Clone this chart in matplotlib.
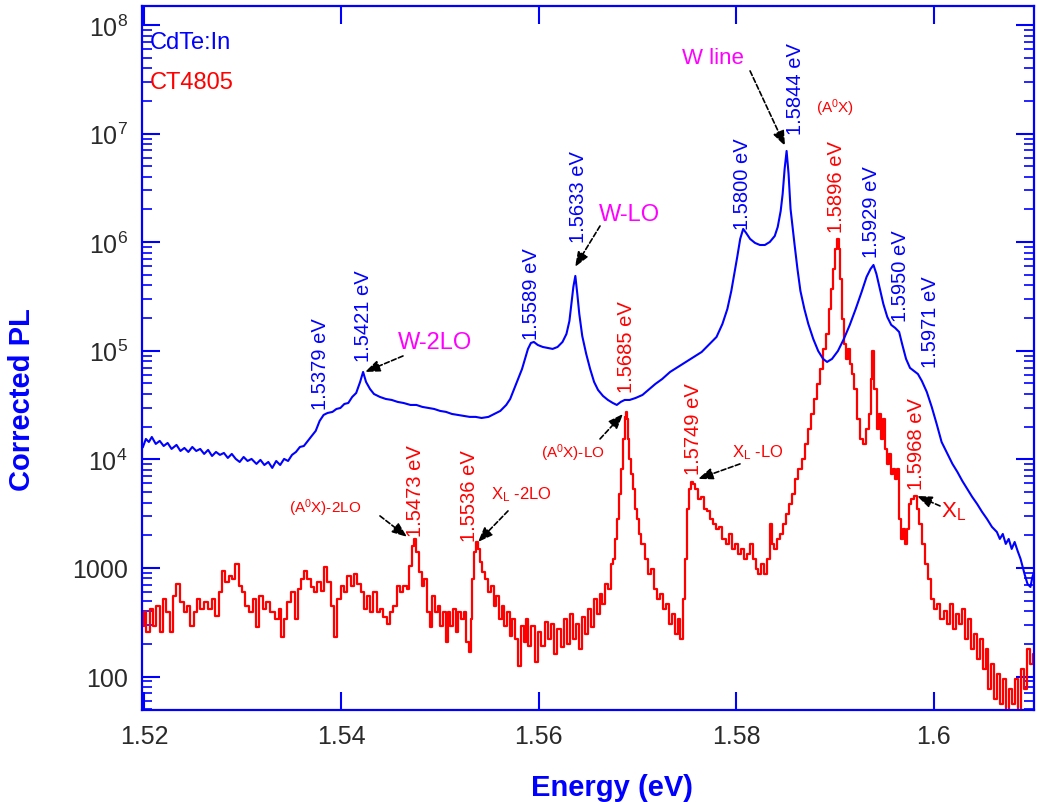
import numpy as np
import matplotlib
matplotlib.use("Agg")
import matplotlib.pyplot as plt
from matplotlib.ticker import FixedLocator, NullFormatter, LogLocator

# ---------------- data (energy in eV, log10 of corrected PL) ----------------
blue_E = [1.5199, 1.5202, 1.5205, 1.5208, 1.5212, 1.5216, 1.5220, 1.5224, 1.5228, 1.5233,
          1.5237, 1.5241, 1.5245, 1.5249, 1.5253, 1.5257, 1.5261, 1.5265, 1.5269, 1.5273,
          1.5277, 1.5281, 1.5285, 1.5289, 1.5293, 1.5297, 1.5301, 1.5305, 1.5309, 1.5314,
          1.5318, 1.5322, 1.5326, 1.5330, 1.5334, 1.5338, 1.5342, 1.5346, 1.5350, 1.5354,
          1.5358, 1.5362, 1.5366, 1.5370, 1.5374, 1.5378, 1.5382, 1.5386, 1.5391, 1.5395,
          1.5399, 1.5403, 1.5407, 1.5411, 1.5415, 1.5419, 1.5422, 1.5425, 1.5429, 1.5433,
          1.5439, 1.5445, 1.5451, 1.5457, 1.5463, 1.5470, 1.5476, 1.5482, 1.5488, 1.5494,
          1.5500, 1.5506, 1.5512, 1.5518, 1.5524, 1.5530, 1.5536, 1.5542, 1.5549, 1.5555,
          1.5561, 1.5567, 1.5571, 1.5575, 1.5579, 1.5583, 1.5586, 1.5589, 1.5592, 1.5595,
          1.5599, 1.5604, 1.5609, 1.5614, 1.5619, 1.5624, 1.5628, 1.5631, 1.5633, 1.5635,
          1.5637, 1.5639, 1.5641, 1.5644, 1.5648, 1.5652, 1.5656, 1.5660, 1.5665, 1.5670,
          1.5675, 1.5679, 1.5683, 1.5687, 1.5692, 1.5698, 1.5705, 1.5711, 1.5718, 1.5725,
          1.5733, 1.5741, 1.5749, 1.5757, 1.5765, 1.5773, 1.5780, 1.5786, 1.5791, 1.5795,
          1.5798, 1.5801, 1.5804, 1.5807, 1.5810, 1.5814, 1.5819, 1.5824, 1.5829, 1.5834,
          1.5839, 1.5842, 1.5845, 1.5847, 1.5849, 1.5851, 1.5853, 1.5855, 1.5859, 1.5862,
          1.5865, 1.5869, 1.5873, 1.5878, 1.5883, 1.5888, 1.5892, 1.5897, 1.5903, 1.5909,
          1.5915, 1.5921, 1.5927, 1.5932, 1.5936, 1.5939, 1.5942, 1.5945, 1.5949, 1.5953,
          1.5957, 1.5961, 1.5965, 1.5968, 1.5972, 1.5976, 1.5980, 1.5984, 1.5988, 1.5993,
          1.5998, 1.6003, 1.6008, 1.6014, 1.6019, 1.6024, 1.6029, 1.6034, 1.6039, 1.6044,
          1.6049, 1.6054, 1.6059, 1.6064, 1.6067, 1.6070, 1.6073, 1.6076, 1.6079, 1.6082,
          1.6085, 1.6088, 1.6092, 1.6095, 1.6098, 1.6100, 1.6102]
blue_log = [4.114, 4.188, 4.160, 4.206, 4.142, 4.170, 4.123, 4.151, 4.096, 4.133,
            4.077, 4.105, 4.068, 4.114, 4.077, 4.096, 4.050, 4.087, 4.031, 4.068,
            4.041, 4.059, 4.013, 4.050, 4.004, 3.976, 4.022, 3.985, 4.004, 3.958,
            3.995, 3.948, 3.976, 3.921, 3.985, 3.948, 4.004, 3.985, 4.041, 4.068,
            4.114, 4.123, 4.170, 4.216, 4.262, 4.354, 4.409, 4.427, 4.437, 4.464,
            4.473, 4.510, 4.519, 4.575, 4.611, 4.713, 4.805, 4.713, 4.648, 4.602,
            4.575, 4.556, 4.547, 4.529, 4.519, 4.501, 4.501, 4.483, 4.473, 4.464,
            4.446, 4.437, 4.418, 4.409, 4.400, 4.391, 4.391, 4.381, 4.391, 4.418,
            4.446, 4.501, 4.556, 4.648, 4.740, 4.832, 4.925, 5.017, 5.072, 5.081,
            5.053, 5.035, 5.026, 5.017, 5.035, 5.081, 5.155, 5.274, 5.431, 5.588,
            5.689, 5.523, 5.339, 5.136, 4.971, 4.832, 4.713, 4.639, 4.584, 4.547,
            4.519, 4.501, 4.529, 4.547, 4.547, 4.565, 4.593, 4.639, 4.694, 4.740,
            4.805, 4.851, 4.897, 4.943, 4.989, 5.063, 5.127, 5.247, 5.385, 5.551,
            5.707, 5.864, 6.030, 6.122, 6.085, 6.030, 5.993, 5.974, 5.974, 6.002,
            6.057, 6.140, 6.287, 6.444, 6.674, 6.840, 6.628, 6.306, 5.983, 5.753,
            5.551, 5.385, 5.247, 5.109, 4.998, 4.925, 4.897, 4.925, 4.998, 5.109,
            5.238, 5.385, 5.542, 5.680, 5.753, 5.790, 5.707, 5.588, 5.431, 5.311,
            5.238, 5.210, 5.173, 5.063, 4.925, 4.842, 4.814, 4.786, 4.722, 4.621,
            4.483, 4.326, 4.160, 4.050, 3.958, 3.884, 3.801, 3.727, 3.654, 3.589,
            3.516, 3.451, 3.378, 3.331, 3.267, 3.313, 3.221, 3.267, 3.175, 3.239,
            3.157, 3.083, 2.945, 2.853, 2.825, 2.917, 2.972]

red_E = [1.5199, 1.5201, 1.5204, 1.5208, 1.5211, 1.5214, 1.5218, 1.5221, 1.5224, 1.5228,
         1.5231, 1.5234, 1.5239, 1.5242, 1.5245, 1.5249, 1.5252, 1.5255, 1.5259, 1.5262,
         1.5267, 1.5270, 1.5274, 1.5278, 1.5281, 1.5284, 1.5288, 1.5291, 1.5294, 1.5298,
         1.5301, 1.5304, 1.5309, 1.5312, 1.5315, 1.5319, 1.5322, 1.5325, 1.5330, 1.5335,
         1.5338, 1.5340, 1.5343, 1.5347, 1.5351, 1.5355, 1.5358, 1.5361, 1.5364, 1.5367,
         1.5371, 1.5374, 1.5377, 1.5381, 1.5384, 1.5387, 1.5392, 1.5394, 1.5398, 1.5401,
         1.5404, 1.5408, 1.5411, 1.5414, 1.5418, 1.5421, 1.5424, 1.5428, 1.5431, 1.5434,
         1.5438, 1.5441, 1.5444, 1.5448, 1.5451, 1.5454, 1.5458, 1.5461, 1.5464, 1.5468,
         1.5470, 1.5473, 1.5475, 1.5477, 1.5480, 1.5483, 1.5485, 1.5488, 1.5491, 1.5493,
         1.5496, 1.5499, 1.5501, 1.5504, 1.5507, 1.5509, 1.5512, 1.5515, 1.5517, 1.5520,
         1.5523, 1.5525, 1.5528, 1.5530, 1.5532, 1.5533, 1.5535, 1.5537, 1.5539, 1.5541,
         1.5544, 1.5548, 1.5550, 1.5553, 1.5556, 1.5558, 1.5561, 1.5564, 1.5566, 1.5569,
         1.5572, 1.5574, 1.5578, 1.5580, 1.5583, 1.5586, 1.5588, 1.5591, 1.5594, 1.5598,
         1.5601, 1.5604, 1.5608, 1.5611, 1.5614, 1.5617, 1.5620, 1.5624, 1.5627, 1.5630,
         1.5633, 1.5636, 1.5639, 1.5642, 1.5645, 1.5648, 1.5651, 1.5654, 1.5657, 1.5660,
         1.5663, 1.5666, 1.5669, 1.5672, 1.5674, 1.5676, 1.5678, 1.5680, 1.5682, 1.5684,
         1.5686, 1.5688, 1.5689, 1.5690, 1.5691, 1.5692, 1.5694, 1.5696, 1.5698, 1.5700,
         1.5702, 1.5706, 1.5709, 1.5712, 1.5715, 1.5718, 1.5721, 1.5724, 1.5727, 1.5730,
         1.5733, 1.5736, 1.5739, 1.5742, 1.5745, 1.5747, 1.5749, 1.5751, 1.5753, 1.5755,
         1.5757, 1.5760, 1.5763, 1.5766, 1.5769, 1.5772, 1.5775, 1.5778, 1.5781, 1.5784,
         1.5788, 1.5791, 1.5794, 1.5797, 1.5800, 1.5803, 1.5806, 1.5809, 1.5812, 1.5815,
         1.5818, 1.5821, 1.5824, 1.5827, 1.5830, 1.5833, 1.5835, 1.5837, 1.5840, 1.5843,
         1.5846, 1.5849, 1.5852, 1.5855, 1.5858, 1.5861, 1.5865, 1.5868, 1.5871, 1.5874,
         1.5877, 1.5880, 1.5883, 1.5886, 1.5889, 1.5892, 1.5895, 1.5897, 1.5899, 1.5901,
         1.5903, 1.5905, 1.5906, 1.5908, 1.5910, 1.5912, 1.5914, 1.5916, 1.5918, 1.5921,
         1.5924, 1.5927, 1.5930, 1.5933, 1.5935, 1.5937, 1.5939, 1.5941, 1.5944, 1.5946,
         1.5948, 1.5950, 1.5952, 1.5954, 1.5956, 1.5958, 1.5960, 1.5962, 1.5964, 1.5966,
         1.5968, 1.5970, 1.5972, 1.5974, 1.5976, 1.5979, 1.5982, 1.5984, 1.5987, 1.5990,
         1.5993, 1.5996, 1.5999, 1.6002, 1.6005, 1.6008, 1.6012, 1.6015, 1.6018, 1.6021,
         1.6024, 1.6027, 1.6030, 1.6033, 1.6036, 1.6039, 1.6042, 1.6045, 1.6048, 1.6051,
         1.6054, 1.6057, 1.6060, 1.6063, 1.6066, 1.6069, 1.6072, 1.6075, 1.6078, 1.6081,
         1.6084, 1.6087, 1.6090, 1.6093, 1.6096, 1.6100, 1.6102]
red_log = [2.466, 2.595, 2.411, 2.623, 2.466, 2.650, 2.411, 2.715, 2.595, 2.411,
           2.742, 2.853, 2.687, 2.595, 2.650, 2.466, 2.595, 2.715, 2.623, 2.687,
           2.623, 2.715, 2.558, 2.779, 2.972, 2.871, 2.926, 2.899, 3.037, 2.834,
           2.779, 2.650, 2.595, 2.715, 2.457, 2.742, 2.623, 2.687, 2.595, 2.530,
           2.623, 2.365, 2.530, 2.687, 2.779, 2.530, 2.807, 2.899, 2.972, 2.899,
           2.825, 2.779, 2.871, 2.788, 3.009, 2.871, 2.650, 2.365, 2.715, 2.834,
           2.779, 2.926, 2.834, 2.945, 2.853, 2.779, 2.623, 2.742, 2.595, 2.779,
           2.595, 2.623, 2.549, 2.484, 2.595, 2.650, 2.834, 2.779, 2.834, 2.807,
           3.018, 3.203, 3.267, 3.147, 2.963, 2.834, 2.899, 2.595, 2.457, 2.742,
           2.595, 2.650, 2.466, 2.595, 2.319, 2.595, 2.466, 2.623, 2.411, 2.595,
           2.530, 2.595, 2.319, 2.227, 2.530, 2.899, 3.147, 3.239, 3.175, 3.055,
           2.963, 2.899, 2.779, 2.834, 2.650, 2.742, 2.530, 2.650, 2.466, 2.595,
           2.374, 2.530, 2.346, 2.098, 2.466, 2.319, 2.530, 2.282, 2.466, 2.135,
           2.411, 2.282, 2.503, 2.346, 2.484, 2.208, 2.438, 2.273, 2.530, 2.300,
           2.577, 2.346, 2.484, 2.254, 2.549, 2.392, 2.623, 2.457, 2.715, 2.577,
           2.761, 2.669, 2.853, 2.807, 3.037, 3.083, 3.267, 3.451, 3.682, 3.912,
           4.188, 4.390, 4.437, 4.372, 4.188, 4.004, 3.866, 3.728, 3.543, 3.451,
           3.313, 3.221, 3.083, 2.945, 2.991, 2.807, 2.715, 2.761, 2.623, 2.669,
           2.484, 2.577, 2.392, 2.530, 2.346, 2.715, 3.083, 3.543, 3.728, 3.792,
           3.774, 3.728, 3.635, 3.654, 3.543, 3.525, 3.451, 3.405, 3.359, 3.378,
           3.267, 3.221, 3.313, 3.175, 3.221, 3.129, 3.175, 3.083, 3.129, 3.221,
           3.083, 2.991, 2.945, 3.037, 2.945, 3.083, 3.405, 3.221, 3.175, 3.267,
           3.313, 3.405, 3.497, 3.589, 3.682, 3.820, 3.912, 4.004, 4.142, 4.280,
           4.418, 4.556, 4.694, 4.833, 5.017, 5.155, 5.385, 5.569, 5.753, 5.937,
           6.029, 5.937, 5.661, 5.293, 5.063, 4.925, 5.017, 4.879, 4.786, 4.648,
           4.372, 4.188, 4.142, 4.280, 4.418, 4.741, 4.998, 4.648, 4.280, 4.418,
           4.188, 4.372, 4.096, 3.958, 4.050, 3.866, 3.912, 3.820, 3.912, 3.451,
           3.267, 3.359, 3.221, 3.359, 3.589, 3.635, 3.663, 3.543, 3.405, 3.221,
           3.037, 2.899, 2.715, 2.623, 2.669, 2.530, 2.604, 2.484, 2.669, 2.438,
           2.577, 2.484, 2.623, 2.346, 2.530, 2.254, 2.392, 2.162, 2.346, 2.070,
           2.254, 1.886, 2.116, 1.794, 2.024, 1.748, 1.978, 1.680, 1.886, 1.748,
           1.978, 1.680, 2.070, 1.886, 2.254, 2.116, 2.208]

blue_peak_labels = ["1.5379 eV", "1.5421 eV", "1.5589 eV", "1.5633 eV", "1.5800 eV",
                    "1.5844 eV", "1.5929 eV", "1.5950 eV", "1.5971 eV"]
red_peak_labels = ["1.5473 eV", "1.5536 eV", "1.5685 eV", "1.5749 eV", "1.5896 eV",
                   "1.5968 eV"]
x_ticks = [1.52, 1.54, 1.56, 1.58, 1.60]
x_tick_labels = ["1.52", "1.54", "1.56", "1.58", "1.6"]
y_ticks = [1e2, 1e3, 1e4, 1e5, 1e6, 1e7, 1e8]
y_tick_labels = ["100", "1000", r"$\mathregular{10^{4}}$", r"$\mathregular{10^{5}}$",
                 r"$\mathregular{10^{6}}$", r"$\mathregular{10^{7}}$", r"$\mathregular{10^{8}}$"]

# ---------------- layout of annotations (data coords: energy, log10 PL) ----------------
blue_label_pos = [(1.5379, 4.464), (1.5422, 4.906), (1.5593, 5.109), (1.5640, 6.002),
                  (1.5806, 6.122), (1.5860, 6.996), (1.5937, 5.864), (1.5966, 5.275),
                  (1.5997, 4.851)]
red_label_pos = [(1.5475, 3.295), (1.5530, 3.249), (1.5689, 4.621), (1.5757, 3.866),
                 (1.5902, 6.094), (1.5983, 3.728)]

BLUE = "#0000ff"
RED = "#ff0000"
MAG = "#ff00ff"

plt.rcParams["font.family"] = ["Liberation Sans", "DejaVu Sans"]
plt.rcParams["mathtext.fontset"] = "custom"
plt.rcParams["mathtext.rm"] = "Liberation Sans"
plt.rcParams["mathtext.it"] = "Liberation Sans"
plt.rcParams["mathtext.bf"] = "Liberation Sans:bold"

fig = plt.figure(figsize=(10.37, 8.03), dpi=100)
ax = fig.add_axes([0.1366, 0.1146, 0.8605, 0.8767])

ax.plot(red_E, 10 ** np.array(red_log), color=RED, lw=1.6, drawstyle="steps-mid", zorder=2)
ax.plot(blue_E, 10 ** np.array(blue_log), color=BLUE, lw=1.5, zorder=3)

ax.set_yscale("log")
ax.set_xlim(1.51977, 1.61016)
ax.set_ylim(10 ** 1.692, 10 ** 8.175)

ax.xaxis.set_major_locator(FixedLocator(x_ticks))
ax.set_xticklabels(x_tick_labels)
ax.yaxis.set_major_locator(FixedLocator(y_ticks))
ax.set_yticklabels(y_tick_labels)
ax.yaxis.set_minor_locator(LogLocator(base=10, subs=np.arange(2, 10)))
ax.yaxis.set_minor_formatter(NullFormatter())

for s in ax.spines.values():
    s.set_color(BLUE)
    s.set_linewidth(1.6)

ax.tick_params(axis="both", which="major", direction="in", color=BLUE, length=13, width=1.5,
               labelcolor="#2a2a2a", labelsize=18, pad=10, top=True, right=True)
ax.tick_params(axis="y", which="minor", direction="in", color=BLUE, length=7, width=1.2,
               right=True)

ax.text(-0.134, 0.443, "Corrected PL", rotation=90, ha="center", va="center",
        transform=ax.transAxes, fontsize=21, fontweight="bold", color=BLUE)
ax.text(0.527, -0.109, "Energy (eV)", ha="center", va="center",
        transform=ax.transAxes, fontsize=21, fontweight="bold", color=BLUE)

ax.text(0.0093, 0.949, "CdTe:In", transform=ax.transAxes, color=BLUE, fontsize=17,
        ha="left", va="center")
ax.text(0.0093, 0.892, "CT4805", transform=ax.transAxes, color=RED, fontsize=17,
        ha="left", va="center")

for txt, (e, lg) in zip(blue_peak_labels, blue_label_pos):
    ax.text(e, 10 ** lg, txt, rotation=90, ha="center", va="bottom", color=BLUE, fontsize=14.5)
for txt, (e, lg) in zip(red_peak_labels, red_label_pos):
    ax.text(e, 10 ** lg, txt, rotation=90, ha="center", va="bottom", color=RED, fontsize=14.5)

# named lines
ax.text(1.57765, 10 ** 7.705, "W line", color=MAG, fontsize=16, ha="center", va="center")
ax.text(1.56914, 10 ** 6.260, "W-LO", color=MAG, fontsize=17, ha="center", va="center")
ax.text(1.54949, 10 ** 5.081, "W-2LO", color=MAG, fontsize=17, ha="center", va="center")
ax.text(1.59001, 10 ** 7.245, r"(A$^\mathregular{0}$X)", color=RED, fontsize=11,
        ha="center", va="center")
ax.text(1.56347, 10 ** 4.068, r"(A$^\mathregular{0}$X)-LO", color=RED, fontsize=11,
        ha="center", va="center")
ax.text(1.53834, 10 ** 3.562, r"(A$^\mathregular{0}$X)-2LO", color=RED, fontsize=11,
        ha="center", va="center")
ax.text(1.55820, 10 ** 3.681, r"X$_\mathregular{L}$ -2LO", color=RED, fontsize=12,
        ha="center", va="center")
ax.text(1.58221, 10 ** 4.068, r"X$_\mathregular{L}$ -LO", color=RED, fontsize=12,
        ha="center", va="center")
ax.text(1.60206, 10 ** 3.525, r"X$_\mathregular{L}$", color=RED, fontsize=16,
        ha="center", va="center")

arrows = [
    ((1.54624, 4.952), (1.54239, 4.805)),
    ((1.56620, 6.149), (1.56367, 5.772)),
    ((1.58140, 7.577), (1.58494, 6.886)),
    ((1.56620, 4.188), (1.56853, 4.418)),
    ((1.54391, 3.479), (1.54665, 3.286)),
    ((1.55688, 3.525), (1.55384, 3.239)),
    ((1.58038, 3.958), (1.57613, 3.820)),
    ((1.60064, 3.571), (1.59831, 3.663)),
]
for (te, tl), (he, hl) in arrows:
    ax.annotate("", xy=(he, 10 ** hl), xytext=(te, 10 ** tl),
                arrowprops=dict(arrowstyle="-|>,head_length=0.9,head_width=0.35",
                                color="black", lw=1.2, linestyle=(0, (3, 1.5)),
                                shrinkA=0, shrinkB=0))

fig.savefig("out.png", dpi=100)
